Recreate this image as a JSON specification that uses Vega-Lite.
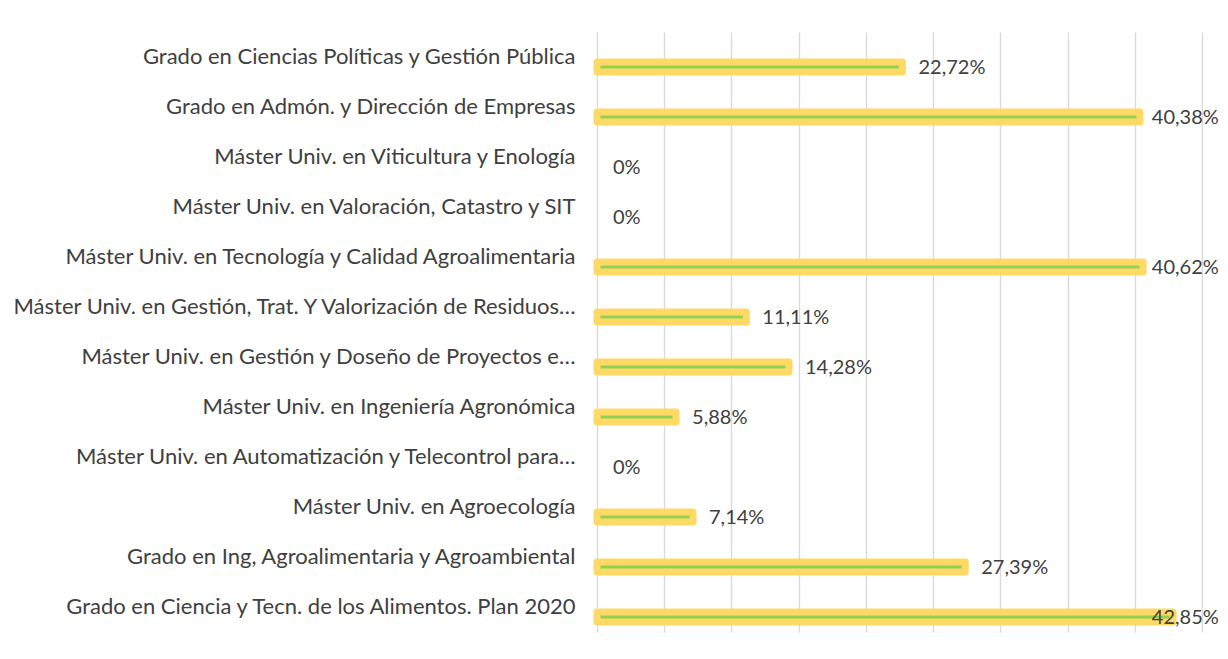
{
  "$schema": "https://vega.github.io/schema/vega-lite/v6.json",
  "autosize": {"type": "none"},
  "padding": {"left": 597, "top": 32, "right": 26, "bottom": 27},
  "width": 605,
  "height": 600,
  "background": "white",
  "config": {
    "view": {"stroke": null},
    "font": "Lato",
    "text": {"font": "Lato"}
  },
  "data": {
    "values": [
      {"titulo": "Grado en Ciencias Políticas y Gestión Pública", "v": 22.72, "label": "22,72%"},
      {"titulo": "Grado en Admón. y Dirección de Empresas", "v": 40.38, "label": "40,38%"},
      {"titulo": "Máster Univ. en Viticultura y Enología", "v": 0, "label": "0%"},
      {"titulo": "Máster Univ. en Valoración, Catastro y SIT", "v": 0, "label": "0%"},
      {"titulo": "Máster Univ. en Tecnología y Calidad Agroalimentaria", "v": 40.62, "label": "40,62%"},
      {"titulo": "Máster Univ. en Gestión, Trat. Y Valorización de Residuos…", "v": 11.11, "label": "11,11%"},
      {"titulo": "Máster Univ. en Gestión y Doseño de Proyectos e…", "v": 14.28, "label": "14,28%"},
      {"titulo": "Máster Univ. en Ingeniería Agronómica", "v": 5.88, "label": "5,88%"},
      {"titulo": "Máster Univ. en Automatización y Telecontrol para…", "v": 0, "label": "0%"},
      {"titulo": "Máster Univ. en Agroecología", "v": 7.14, "label": "7,14%"},
      {"titulo": "Grado en Ing, Agroalimentaria y Agroambiental", "v": 27.39, "label": "27,39%"},
      {"titulo": "Grado en Ciencia y Tecn. de los Alimentos. Plan 2020", "v": 42.85, "label": "42,85%"}
    ]
  },
  "encoding": {
    "y": {
      "field": "titulo",
      "type": "nominal",
      "sort": null,
      "scale": {
        "domain": [
          "Grado en Ciencias Políticas y Gestión Pública",
          "Grado en Admón. y Dirección de Empresas",
          "Máster Univ. en Viticultura y Enología",
          "Máster Univ. en Valoración, Catastro y SIT",
          "Máster Univ. en Tecnología y Calidad Agroalimentaria",
          "Máster Univ. en Gestión, Trat. Y Valorización de Residuos…",
          "Máster Univ. en Gestión y Doseño de Proyectos e…",
          "Máster Univ. en Ingeniería Agronómica",
          "Máster Univ. en Automatización y Telecontrol para…",
          "Máster Univ. en Agroecología",
          "Grado en Ing, Agroalimentaria y Agroambiental",
          "Grado en Ciencia y Tecn. de los Alimentos. Plan 2020"
        ],
        "paddingInner": 0,
        "paddingOuter": 0
      },
      "axis": {
        "title": null,
        "domain": false,
        "ticks": false,
        "labelPadding": 22,
        "labelFont": "Lato",
        "labelFontSize": 22,
        "labelColor": "#404040",
        "labelLimit": 0,
        "encode": {
          "labels": {
            "update": {
              "x": {"signal": "indexof(datum.value, '…') >= 0 ? -5 : -22"}
            }
          }
        }
      }
    }
  },
  "layer": [
    {
      "transform": [{"filter": "datum.v > 0"}],
      "mark": {
        "type": "bar",
        "yOffset": 10,
        "size": 10,
        "fill": "#92D050",
        "stroke": "#FFD966",
        "strokeWidth": 7,
        "strokeJoin": "round"
      },
      "encoding": {
        "x": {
          "field": "v",
          "type": "quantitative",
          "scale": {"domain": [0, 45], "nice": false, "zero": true},
          "axis": {
            "title": null,
            "labels": false,
            "ticks": false,
            "domain": false,
            "grid": true,
            "gridColor": "#D9D9D9",
            "gridWidth": 1.3,
            "values": [0, 5, 10, 15, 20, 25, 30, 35, 40, 45]
          }
        }
      }
    },
    {
      "transform": [{"calculate": "min(datum.v, 40.08)", "as": "lx"}],
      "mark": {
        "type": "text",
        "align": "left",
        "baseline": "middle",
        "dx": 16,
        "yOffset": 11,
        "font": "Lato",
        "fontSize": 20,
        "color": "#404040"
      },
      "encoding": {
        "x": {"field": "lx", "type": "quantitative"},
        "text": {"field": "label"}
      }
    }
  ]
}
